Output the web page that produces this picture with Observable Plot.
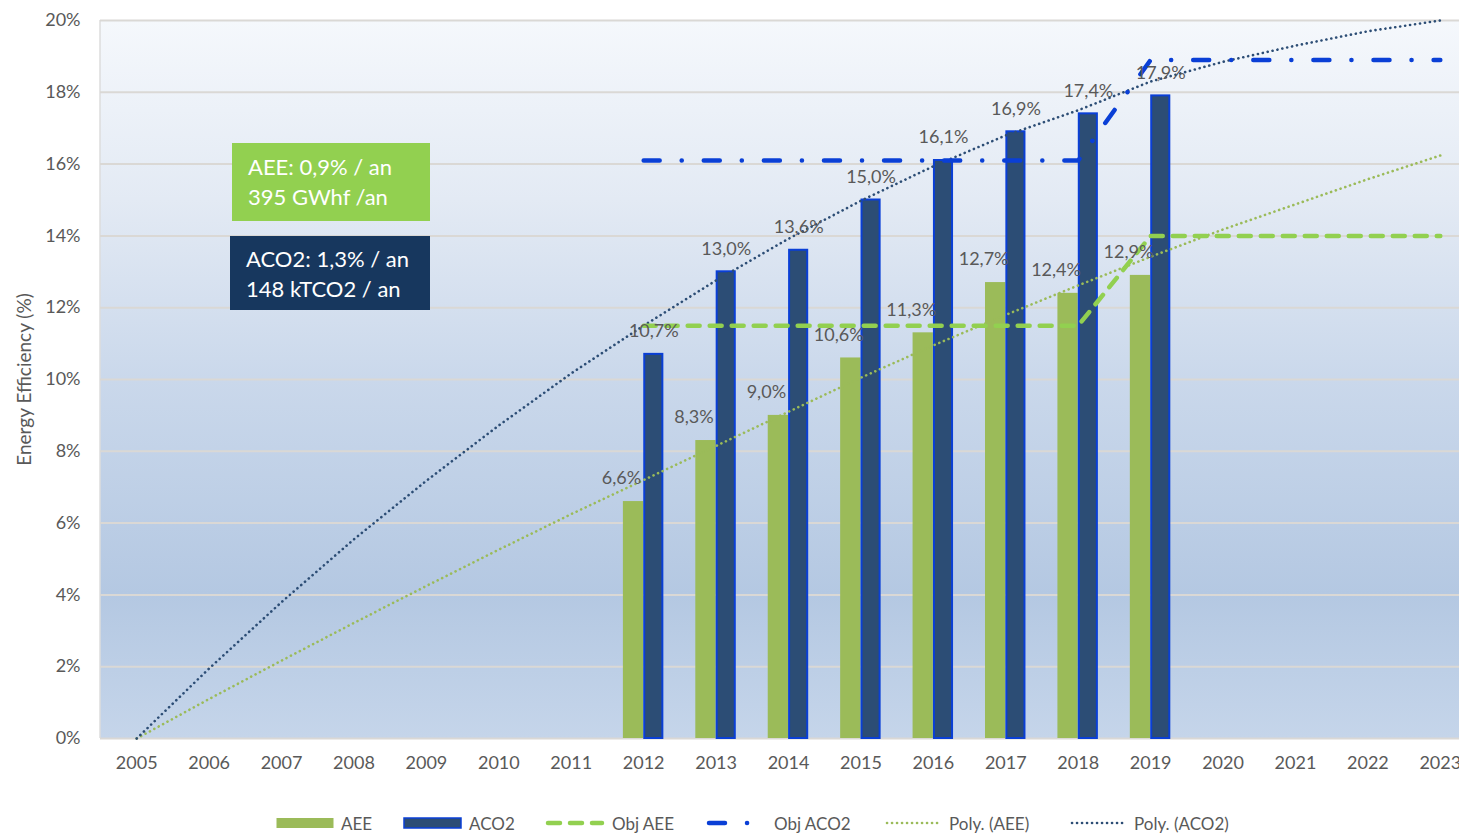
<!DOCTYPE html>
<html><head><meta charset="utf-8">
<script src="https://cdn.jsdelivr.net/npm/d3@7"></script>
<script src="https://cdn.jsdelivr.net/npm/@observablehq/plot@0.6"></script>
<style>
body{margin:0;background:#fff;font-family:Lato,"Open Sans",sans-serif;}
#wrap{position:relative;width:1459px;height:835px;overflow:hidden;}
.box{position:absolute;color:#fff;font-size:22px;line-height:30px;padding-left:16px;box-sizing:border-box;white-space:nowrap;}
.li{position:absolute;top:812px;height:22px;display:flex;align-items:center;font-size:17px;color:#595959;white-space:nowrap;}
.li svg{margin-right:7px;}
</style></head><body><div id="wrap"></div>
<script>
// ---- data ----
const years = [2005,2006,2007,2008,2009,2010,2011,2012,2013,2014,2015,2016,2017,2018,2019,2020,2021,2022,2023];
const barYears = [2012,2013,2014,2015,2016,2017,2018,2019];
const aeeValues = [6.6,8.3,9.0,10.6,11.3,12.7,12.4,12.9];
const aco2Values = [10.7,13.0,13.6,15.0,16.1,16.9,17.4,17.9];
const objYears = [2012,2018,2019,2023];
const objAeeValues = [11.5,11.5,14.0,14.0];
const objAco2Values = [16.1,16.1,18.9,18.9];
const polyAeeValues = [0,1.1,2.17,3.22,4.25,5.26,6.25,7.2,8.15,9.1,10.05,10.95,11.8,12.62,13.42,14.18,14.88,15.58,16.24];
const polyAco2Values = [0,1.95,3.8,5.55,7.18,8.72,10.17,11.5,12.76,13.92,14.98,15.94,16.8,17.5,18.3,18.85,19.3,19.7,20.0];
const yTicks = [0,2,4,6,8,10,12,14,16,18,20];
const yLabel = "Energy Efficiency (%)";

// ---- tables ----
const aee = barYears.map((year,i)=>({year, v:aeeValues[i]}));
const aco2 = barYears.map((year,i)=>({year, v:aco2Values[i]}));
const objAee = objYears.map((year,i)=>({year, v:objAeeValues[i]}));
const objAco2 = objYears.map((year,i)=>({year, v:objAco2Values[i]}));
const polyAee = years.map((year,i)=>({year, v:polyAeeValues[i]}));
const polyAco2 = years.map((year,i)=>({year, v:polyAco2Values[i]}));
const fmt = d => d.v.toFixed(1).replace(".", ",") + "%";

const GREEN="#9bbb59", NAVY="#2c4d75", BLUE="#0a3fd6", OBJGREEN="#92d050", GREY="#595959";
const BW = 0.28;

const background = (index, scales, values, dims) => {
  const g = d3.create("svg:g");
  const grad = g.append("defs").append("linearGradient").attr("id","bgGrad")
    .attr("x1",0).attr("y1",0).attr("x2",0).attr("y2",1);
  [[0,"#f5f8fc"],[0.25,"#e3eaf4"],[0.5,"#cad8eb"],[0.8,"#b4c8e2"],[1,"#c5d5ea"]].forEach(([o,c])=>
    grad.append("stop").attr("offset",o).attr("stop-color",c));
  const x0 = scales.x(2004.5), x1 = dims.width, y0 = scales.y(20), y1 = scales.y(0);
  g.append("rect").attr("x",x0).attr("y",y0).attr("width",x1-x0).attr("height",y1-y0).attr("fill","url(#bgGrad)");
  g.append("line").attr("x1",x0).attr("x2",x0).attr("y1",y0).attr("y2",y1).attr("stroke","#dcdcdc").attr("stroke-width",1.5);
  return g.node();
};

const chart = Plot.plot({
  width: 1459, height: 800,
  marginLeft: 100, marginRight: 0, marginTop: 20, marginBottom: 62,
  style: {fontFamily: "Lato, 'Open Sans', sans-serif", background: "transparent"},
  x: {type: "linear", domain: [2004.5, 2023.265]},
  y: {domain: [0, 20]},
  marks: [
    background,
    Plot.gridY(yTicks, {stroke: "#dad8d5", strokeOpacity: 1, strokeWidth: 2}),
    Plot.rectY(aee, {x1: d => d.year - BW, x2: d => d.year, y1: 0, y2: "v", fill: GREEN}),
    Plot.rectY(aco2, {x1: d => d.year + 0.015, x2: d => d.year + BW - 0.015, y1: 0, y2: "v", fill: NAVY, stroke: BLUE, strokeWidth: 2}),
    Plot.line(polyAee, {x: "year", y: "v", stroke: GREEN, strokeWidth: 2.6, strokeDasharray: "0.1,4.9", strokeLinecap: "round"}),
    Plot.line(polyAco2, {x: "year", y: "v", stroke: NAVY, strokeWidth: 2.6, strokeDasharray: "0.1,4.9", strokeLinecap: "round"}),
    Plot.line(objAee, {x: "year", y: "v", stroke: OBJGREEN, strokeWidth: 4.5, strokeDasharray: "12,10", strokeLinecap: "round"}),
    Plot.line(objAco2, {x: "year", y: "v", stroke: BLUE, strokeWidth: 4.5, strokeDasharray: "16,22,0.1,22", strokeLinecap: "round"}),
    Plot.text(aee, {x: d => d.year - BW/2, y: "v", text: fmt, dx: -12, dy: -23, fontSize: 18, fill: GREY}),
    Plot.text(aco2, {x: d => d.year + BW/2, y: "v", text: fmt, dx: 0, dy: -23, fontSize: 18, fill: GREY}),
    Plot.axisX(years, {tickFormat: d => String(d), tickSize: 0, tickPadding: 18, fontSize: 18, color: GREY, label: null}),
    Plot.axisY(yTicks, {tickFormat: d => d + "%", tickSize: 0, tickPadding: 20, fontSize: 18, color: GREY, label: null}),
    Plot.text([yLabel], {frameAnchor: "left", textAnchor: "middle", dx: -76, rotate: -90, fontSize: 19, fill: GREY})
  ]
});

const wrap = document.getElementById("wrap");
wrap.appendChild(chart);

// annotation boxes
const b1 = document.createElement("div");
b1.className = "box";
b1.style.cssText = "left:232px;top:143px;width:198px;height:78px;background:#92d050;padding-top:9px;";
b1.innerHTML = "AEE: 0,9% / an<br>395 GWhf /an";
wrap.appendChild(b1);
const b2 = document.createElement("div");
b2.className = "box";
b2.style.cssText = "left:230px;top:236px;width:200px;height:74px;background:#17375e;padding-top:8px;";
b2.innerHTML = "ACO2: 1,3% / an<br>148 kTCO2 / an";
wrap.appendChild(b2);

// legend
const legendItems = [
  {left: 276, label: "AEE", svg: `<svg width="58" height="12"><rect x="0.5" y="1" width="57" height="10" fill="${GREEN}"/></svg>`},
  {left: 403, label: "ACO2", svg: `<svg width="59" height="12"><rect x="1" y="1" width="57" height="10" fill="${NAVY}" stroke="${BLUE}" stroke-width="1.5"/></svg>`},
  {left: 545, label: "Obj AEE", svg: `<svg width="60" height="12"><line x1="3" x2="57" y1="6" y2="6" stroke="${OBJGREEN}" stroke-width="4.5" stroke-dasharray="12,10" stroke-linecap="round"/></svg>`},
  {left: 706, label: "Obj ACO2", svg: `<svg width="60" height="12" style="margin-right:8px"><line x1="3" x2="52" y1="6" y2="6" stroke="${BLUE}" stroke-width="4.5" stroke-dasharray="16,22,0.1,22" stroke-linecap="round"/></svg>`},
  {left: 885, label: "Poly. (AEE)", svg: `<svg width="57" height="12"><line x1="2" x2="56" y1="6" y2="6" stroke="${GREEN}" stroke-width="2.6" stroke-dasharray="0.1,4.9" stroke-linecap="round"/></svg>`},
  {left: 1070, label: "Poly. (ACO2)", svg: `<svg width="57" height="12"><line x1="2" x2="56" y1="6" y2="6" stroke="${NAVY}" stroke-width="2.6" stroke-dasharray="0.1,4.9" stroke-linecap="round"/></svg>`}
];
legendItems.forEach(it => {
  const d = document.createElement("div");
  d.className = "li";
  d.style.left = it.left + "px";
  d.innerHTML = it.svg + "<span>" + it.label + "</span>";
  wrap.appendChild(d);
});
</script>
</body></html>
